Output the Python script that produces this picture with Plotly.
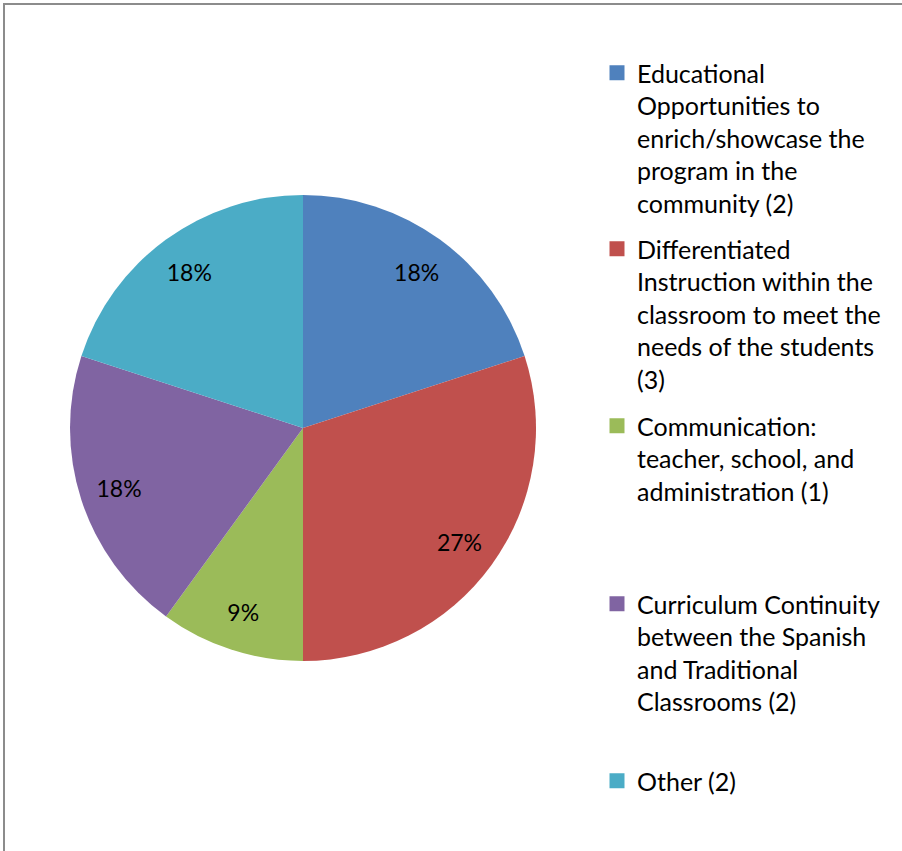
import plotly.graph_objects as go

categories = [
    "Educational<br>Opportunities to<br>enrich/showcase the<br>program in the<br>community (2)",
    "Differentiated<br>Instruction within the<br>classroom to meet the<br>needs of the students<br>(3)",
    "Communication:<br>teacher, school, and<br>administration (1)",
    "Curriculum Continuity<br>between the Spanish<br>and Traditional<br>Classrooms (2)",
    "Other (2)",
]
values = [2, 3, 1, 2, 2]
data_labels = ["18%", "27%", "9%", "18%", "18%"]
colors = ["#4F81BD", "#C0504D", "#9BBB59", "#8064A2", "#4BACC6"]

W, H = 902, 851
FONT = "Lato"
dom = dict(x=[70 / W, 536 / W], y=[1 - 661 / H, 1 - 195 / H])

traces = [
    go.Pie(
        labels=categories, values=values, sort=False, direction="clockwise", rotation=0,
        marker=dict(colors=colors, line=dict(width=0)),
        textinfo="none", domain=dom, hoverinfo="label+value", showlegend=False,
    ),
    go.Pie(
        labels=categories, values=values, sort=False, direction="clockwise", rotation=0,
        hole=0.66,
        marker=dict(colors=["rgba(0,0,0,0)"] * len(values), line=dict(width=0)),
        text=data_labels, texttemplate="%{text}",
        textposition="inside", insidetextorientation="horizontal",
        textfont=dict(family=FONT, size=23, color="black"),
        domain=dom, showlegend=False, hoverinfo="skip",
    ),
]

# legend entries (one legend box per category so the spacing follows the original)
legend_tops = [50, 226, 403, 581, 758]
legend_ids = ["legend", "legend2", "legend3", "legend4", "legend5"]
for name, col, lid in zip(categories, colors, legend_ids):
    traces.append(go.Scatter(
        x=[None], y=[None], mode="markers", name=name,
        marker=dict(symbol="square", size=15, color=col),
        legend=lid, showlegend=True, hoverinfo="skip",
    ))

fig = go.Figure(traces)

legend_style = dict(
    x=(637 - 40) / W, xanchor="left", yanchor="top",
    font=dict(family=FONT, size=25, color="black"),
    valign="top", bgcolor="rgba(0,0,0,0)",
)
layout_legends = {lid: dict(legend_style, y=1 - top / H) for lid, top in zip(legend_ids, legend_tops)}

fig.update_layout(
    width=W, height=H,
    margin=dict(l=0, r=0, t=0, b=0),
    paper_bgcolor="white", plot_bgcolor="white",
    xaxis=dict(visible=False), yaxis=dict(visible=False),
    shapes=[dict(
        type="rect", xref="paper", yref="paper",
        x0=4 / W, x1=1.05, y0=-0.05, y1=1 - 4 / H,
        line=dict(color="#8c8c8c", width=2),
        fillcolor="rgba(0,0,0,0)",
    )],
    **layout_legends,
)

fig.write_html("out.html", config={"displayModeBar": False},
               post_script="document.body.style.margin='0';")
